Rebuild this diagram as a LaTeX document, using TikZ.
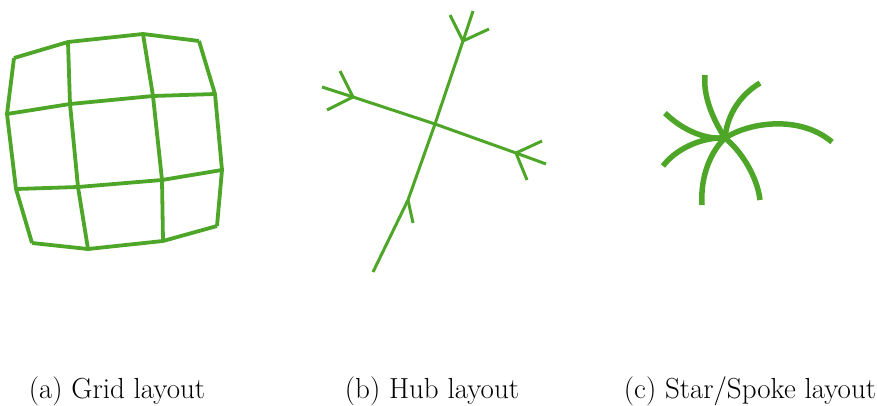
\documentclass[tikz,border=0pt]{standalone}
\usepackage{fontspec}
\definecolor{lgreen}{RGB}{77,166,40}
\tikzset{
  gridline/.style={draw=lgreen, line width=3.8pt, line join=round},
  hubline/.style={draw=lgreen, line width=3pt},
  starline/.style={draw=lgreen, line width=5.5pt},
  caption/.style={font=\fontsize{29}{34}\selectfont, inner sep=0pt, anchor=base}
}
\begin{document}
\begin{tikzpicture}[x=1pt,y=-1pt]
\useasboundingbox (0,0) rectangle (877,406);
% Grid layout
\coordinate (g00) at (14,58);  \coordinate (g01) at (68,42);  \coordinate (g02) at (143,34); \coordinate (g03) at (199,41);
\coordinate (g10) at (7,114);  \coordinate (g11) at (70,104); \coordinate (g12) at (153,96); \coordinate (g13) at (215,94);
\coordinate (g20) at (16,189); \coordinate (g21) at (78,187); \coordinate (g22) at (162,180);\coordinate (g23) at (222,170);
\coordinate (g30) at (32,243); \coordinate (g31) at (88,249); \coordinate (g32) at (163,241);\coordinate (g33) at (217,226);
\foreach \r in {0,1,2,3}{
  \draw[gridline] (g\r0) -- (g\r1) -- (g\r2) -- (g\r3);
  \draw[gridline] (g0\r) -- (g1\r) -- (g2\r) -- (g3\r);
}
% Hub layout
\coordinate (hc) at (435,124);
\coordinate (hu) at (463,41);
\coordinate (hl) at (353,97);
\coordinate (hr) at (516,153);
\coordinate (hd) at (408,200);
\coordinate (hde) at (373,272);
\draw[hubline] (hc) -- (hu);
\draw[hubline] (hc) -- (hl);
\draw[hubline] (hc) -- (hr);
\draw[hubline] (hc) -- (hd) -- (hde);
\coordinate (hu1) at (450,15); \coordinate (hu2) at (473,11); \coordinate (hu3) at (489,29);
\draw[hubline] (hu) -- (hu1); \draw[hubline] (hu) -- (hu2); \draw[hubline] (hu) -- (hu3);
\coordinate (hl1) at (340,71); \coordinate (hl2) at (322,87); \coordinate (hl3) at (327,110);
\draw[hubline] (hl) -- (hl1); \draw[hubline] (hl) -- (hl2); \draw[hubline] (hl) -- (hl3);
\coordinate (hr1) at (542,141); \coordinate (hr2) at (546,164); \coordinate (hr3) at (527,180);
\draw[hubline] (hr) -- (hr1); \draw[hubline] (hr) -- (hr2); \draw[hubline] (hr) -- (hr3);
\coordinate (hd1) at (413,223);
\draw[hubline] (hd) -- (hd1);
% Star layout
\coordinate (sc) at (725,138);
\coordinate (s1) at (705,75);
\coordinate (s2) at (760,83);
\coordinate (s3) at (665,113);
\coordinate (s4) at (832,142);
\coordinate (s5) at (663,166);
\coordinate (s6) at (702,205);
\coordinate (s7) at (760,200);
\draw[starline] (sc) .. controls (712,118) and (703,95) .. (s1);
\draw[starline] (sc) .. controls (727,115) and (740,95) .. (s2);
\draw[starline] (sc) .. controls (703,140) and (680,128) .. (s3);
\draw[starline] (sc) .. controls (750,122) and (800,115) .. (s4);
\draw[starline] (sc) .. controls (700,137) and (675,150) .. (s5);
\draw[starline] (sc) .. controls (712,150) and (700,175) .. (s6);
\draw[starline] (sc) .. controls (740,150) and (757,175) .. (s7);
% Captions
\node[caption] (ca) at (117,398) {(a) Grid layout};
\node[caption] (cb) at (432,398) {(b) Hub layout};
\node[caption] (cc) at (750,398) {(c) Star/Spoke layout};
\end{tikzpicture}
\end{document}
